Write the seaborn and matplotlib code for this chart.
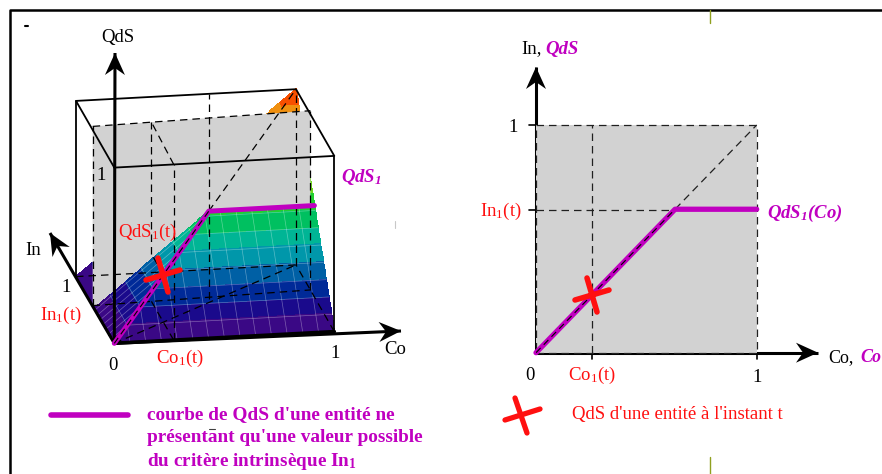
import numpy as np
import seaborn as sns
import matplotlib.pyplot as plt
from matplotlib.colors import ListedColormap, BoundaryNorm
from matplotlib.markers import MarkerStyle
from matplotlib.transforms import Affine2D

# Values
co1_left = 0.27        # Co1(t) in the 3D view
in1_ridge = 0.52       # height of the flat part of QdS1 in the 3D view
in1_plane_l = 0.565    # grey In1 plane, left edge
in1_plane_r = 0.625    # grey In1 plane, right edge (the scan has some perspective)
grey_top = 1.02
co_back = 0.606        # extra dashed vertical on the back face
co1_right = 0.252
in1_right = 0.627
right_co = [0, 0.63, 1]
right_qds = [0, 0.63, 0.63]
band_colors = ['#3a0885', '#1a0a8c', '#002a98', '#0060a5', '#0097aa', '#00b595', '#00c060',
               '#20d030', '#70d820', '#b0e010', '#f0e000', '#f8b000', '#f09010', '#f85000']

MAGENTA = '#c000c0'
RED = '#ff1010'
GREY = '#d2d2d2'
DASH = (0, (6, 4))

sns.set_theme(style='white')
plt.rcParams['font.family'] = ['Liberation Serif', 'DejaVu Sans']
plt.rcParams['mathtext.fontset'] = 'custom'
plt.rcParams['mathtext.rm'] = 'Liberation Serif'
plt.rcParams['mathtext.it'] = 'Liberation Serif:italic'
plt.rcParams['mathtext.bf'] = 'Liberation Serif:bold'
plt.rcParams['mathtext.bfit'] = 'Liberation Serif:italic:bold'

fig = plt.figure(figsize=(8.82, 4.74), dpi=100)
canvas = fig.add_axes([0, 0, 1, 1])
canvas.axis('off')


# Oblique view used by the cube on the left, returns pixel positions
def proj(co, inn, qds):
    co, inn, qds = np.asarray(co, float), np.asarray(inn, float), np.asarray(qds, float)
    x = 114.3 + 220 * co - 38.3 * inn
    y = 343.3 - 11.7 * co - 66.7 * inn - 175.7 * qds
    return x, y


def line3d(pts, z=5, color='black', lw=1.0, ls='-'):
    c, i, q = zip(*pts)
    x, y = proj(c, i, q)
    sns.lineplot(x=x, y=y, ax=canvas, sort=False, estimator=None, color=color, lw=lw, ls=ls,
                 zorder=z, legend=False, solid_capstyle='round')


def arrow(x0, y0, x1, y1, lw=2.2):
    canvas.plot([x0, x1], [y0, y1], color='black', lw=lw, zorder=7, solid_capstyle='butt')
    d = np.array([x1 - x0, y1 - y0], float)
    d /= np.hypot(*d)
    n = np.array([-d[1], d[0]])
    tip = np.array([x1, y1])
    head = [tip, tip - 22 * d + 10 * n, tip - 15 * d, tip - 22 * d - 10 * n]
    canvas.fill(*zip(*head), color='black', lw=0, zorder=7)


def label(x, y, s, color='black', size=13.5, ha='center', **kw):
    canvas.text(x, y, s, color=color, fontsize=size, ha=ha, va='center', zorder=10, **kw)


def surface(i_from, i_to, z):
    co_g = np.linspace(0, 1, 113)
    in_g = np.linspace(i_from, i_to, 50)
    C, I = np.meshgrid(co_g, in_g)
    X, Y = proj(C, I, np.minimum(C, I))
    Cm, Im = (C[:-1, :-1] + C[1:, 1:]) / 2, (I[:-1, :-1] + I[1:, 1:]) / 2
    canvas.pcolormesh(X, Y, np.minimum(Cm, Im), cmap=cmap, norm=norm, shading='flat',
                      edgecolors='face', linewidth=0.2, zorder=z)


n_bands = len(band_colors)
cmap = ListedColormap(band_colors)
norm = BoundaryNorm(np.linspace(0, 1, n_bands + 1), n_bands)

# Left: surface, the part behind the grey plane first
surface(1, in1_ridge, 1)
gl, gr = in1_plane_l, in1_plane_r
gx, gy = proj([0, 1, 1, 0], [gl, gr, gr, gl], [0, 0, grey_top, grey_top])
canvas.fill(gx, gy, color=GREY, lw=0, zorder=2)
surface(in1_ridge, 0, 4)

# faint mesh on the front part
for c in np.arange(1, n_bands) / n_bands:
    ii = np.array([0, min(c, in1_ridge), in1_ridge])
    x, y = proj([c] * 3, ii, np.minimum(c, ii))
    canvas.plot(x, y, color='white', lw=0.5, alpha=0.35, zorder=4.5)
for v in np.arange(1, 8) / n_bands:
    cc = np.array([0, v, 1])
    x, y = proj(cc, [v] * 3, np.minimum(cc, v))
    canvas.plot(x, y, color='white', lw=0.5, alpha=0.35, zorder=4.5)

# cube edges
for pts in [[(0, 0, 1), (1, 0, 1), (1, 1, 1), (0, 1, 1), (0, 0, 1)],
            [(1, 0, 0), (1, 0, 1)],
            [(0, 1, 0), (0, 1, 1)]]:
    line3d(pts, z=5, lw=1.3)

# hidden edges and guides
co1_g = gl + (gr - gl) * co1_left
for pts in [[(1, 1, 0), (1, 1, 1)],
            [(co_back, 1, -0.17), (co_back, 1, 1)],
            [(0, gl, grey_top), (1, gr, grey_top)],
            [(0, gl, 0), (0, gl, grey_top)],
            [(1, gr, 0), (1, gr, grey_top)],
            [(0, gl, 0), (1, gr, 0)],
            [(0, 1, 0), (1, 1, 0)],
            [(1, 0, 0), (1, 1, 0)],
            [(0, 0, 0), (1, 1, 0)],
            [(co1_left, 0, 0), (co1_left, 0, 1)],
            [(co1_left, co1_g, co1_left), (co1_left, co1_g, grey_top)],
            [(co1_left, 0, 1), (co1_left, co1_g, grey_top)],
            [(co1_left, 0, 0), (co1_left, co1_g, 0)],
            [(co1_left, co1_left, co1_left), (co1_left, co1_g, co1_left)],
            [(in1_ridge, in1_ridge, in1_ridge), (1, 1, 1)]]:
    line3d(pts, z=5, lw=0.9, ls=DASH)

line3d([(0, 0, 0), (1, 0, 0)], z=6, lw=2.6)
line3d([(0, 0, 0), (in1_ridge, in1_ridge, in1_ridge), (1, in1_ridge, in1_ridge)],
       z=8, color=MAGENTA, lw=3.6)
line3d([(0, 0, 0), (in1_ridge, in1_ridge, in1_ridge)], z=8.5, lw=0.8, ls=DASH)

arrow(114.3, 343.3, 115, 53)
arrow(114.3, 343.3, 401, 331)
arrow(114.3, 343.3, 50, 233)

cx, cy = proj(co1_left, co1_left, co1_left)
cross = MarkerStyle('+', transform=Affine2D().rotate_deg(17), capstyle='round')
canvas.plot(cx, cy, marker=cross, ms=25, mew=4, color=RED, zorder=9)

label(118, 37, 'QdS')
label(33, 250, 'In')
label(101, 176, '1')
label(66, 288, '1')
label(61, 315, 'In$_1$(t)', RED)
label(113, 365, '0')
label(180, 358, 'Co$_1$(t)', RED)
label(335, 353, '1')
label(395, 349, 'Co')
label(361, 177, r'QdS$_{\mathbfit{1}}$', MAGENTA, style='italic', weight='bold')
label(148, 232, 'QdS$_1$(t)', RED)

# Right: plane view on its own axes
x0, x1, y0, y1 = 536, 756.7, 352.7, 125
ax = fig.add_axes([x0 / 882, 1 - y0 / 474, (x1 - x0) / 882, (y0 - y1) / 474])
ax.set_xlim(0, 1)
ax.set_ylim(0, 1)
ax.axis('off')
ax.patch.set_alpha(0)
ax.fill_between([0, 1], 0, 1, color=GREY, lw=0, zorder=1)
for xs, ys in [([0, 1, 1, 0, 0], [0, 0, 1, 1, 0]),
               ([co1_right, co1_right], [0, 1]),
               ([0, 0.63], [in1_right, in1_right]),
               ([0, 1], [0, 1])]:
    ax.plot(xs, ys, color='#202020', lw=0.9, ls=DASH, zorder=2, clip_on=False)
sns.lineplot(x=right_co, y=right_qds, ax=ax, sort=False, estimator=None, color=MAGENTA, lw=3.8,
             zorder=3, legend=False, solid_capstyle='round', clip_on=False)
ax.plot([0, 0.63], [0, 0.63], color='black', lw=0.8, ls=DASH, zorder=3.5)
ax.plot(co1_right, co1_right, marker=cross, ms=25, mew=4, color=RED, zorder=4, clip_on=False)
ax.set_xlim(0, 1)
ax.set_ylim(0, 1)

arrow(536, 353, 536, 67)
arrow(536, 352.7, 818, 352.7)
canvas.plot([529, 536], [125, 125], color='black', lw=1.2, zorder=7)
canvas.plot([529, 543], [210, 210], color='black', lw=1.2, zorder=7)
canvas.plot([592, 592], [353, 359], color='black', lw=1.2, zorder=7)
canvas.plot([757, 757], [353, 359], color='black', lw=1.2, zorder=7)

label(521, 49, 'In,', ha='left')
label(545, 49, 'QdS', MAGENTA, ha='left', style='italic', weight='bold')
label(513, 127, '1')
label(501, 211, 'In$_1$(t)', RED)
label(767, 213, r'QdS$_{\mathbfit{1}}$(Co)', MAGENTA, ha='left', style='italic', weight='bold')
label(649, 303, 'QdS$_1$(t)', RED)
label(530, 375, '0')
label(592, 375, 'Co$_1$(t)', RED)
label(757, 377, '1')
label(828, 358, 'Co,', ha='left', size=13)
label(860, 358, 'Co', MAGENTA, ha='left', size=13, style='italic', weight='bold')

# Legend row
canvas.plot([51, 128], [415, 415], color=MAGENTA, lw=4, solid_capstyle='round')
label(147, 415, "courbe de QdS d'une entité ne", MAGENTA, size=13.9, ha='left', weight='bold')
label(147, 438, "présentant qu'une valeur possible", MAGENTA, size=13.9, ha='left', weight='bold')
label(147, 461, "du critère intrinsèque In$_\\mathbf{1}$", MAGENTA, size=13.9, ha='left', weight='bold')
canvas.plot([505, 540], [420, 409], color=RED, lw=3.8, solid_capstyle='round')
canvas.plot([515, 527], [398, 433], color=RED, lw=3.8, solid_capstyle='round')
label(572, 415, "QdS d'une entité à l'instant t", RED, ha='left')

# Page border and stray marks of the scan
canvas.plot([10, 10, 882], [474, 10, 10], color='black', lw=1.8, solid_capstyle='butt', clip_on=False)
canvas.plot([710, 710], [10, 23], color='#90a020', lw=1)
canvas.plot([710, 710], [457, 474], color='#90a020', lw=1)
canvas.plot([25, 28], [25.5, 25.5], color='black', lw=1.5)
canvas.plot([394.5, 394.5], [221, 228], color='#c8c8c8', lw=0.8)
canvas.plot([209, 215], [429, 429], color='#404040', lw=0.8)

canvas.set_xlim(0, 882)
canvas.set_ylim(474, 0)

fig.savefig('out.png', dpi=100)
